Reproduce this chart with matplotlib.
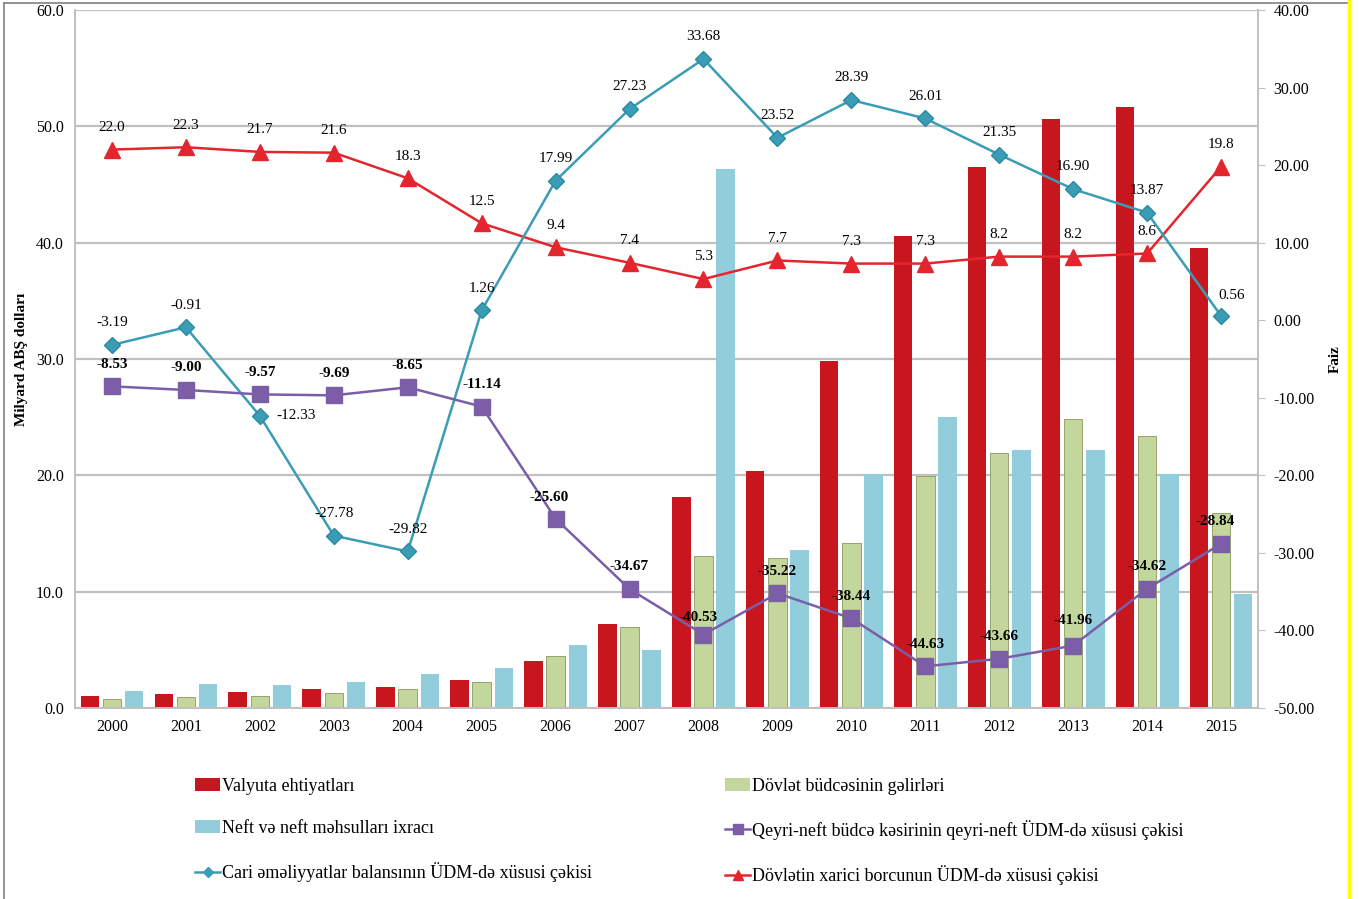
import matplotlib
matplotlib.use("Agg")
import matplotlib.pyplot as plt
import numpy as np
from matplotlib.lines import Line2D
from matplotlib.patches import Patch

years = ["2000", "2001", "2002", "2003", "2004", "2005", "2006", "2007",
         "2008", "2009", "2010", "2011", "2012", "2013", "2014", "2015"]

# bars, billion USD (left axis)
reserves = [1.0, 1.2, 1.4, 1.6, 1.8, 2.4, 4.0, 7.2, 18.1, 20.4, 29.8, 40.6, 46.5, 50.6, 51.7, 39.5]
budget_revenue = [0.8, 0.9, 1.0, 1.3, 1.6, 2.2, 4.5, 7.0, 13.1, 12.9, 14.2, 19.9, 21.9, 24.8, 23.4, 16.8]
oil_exports = [1.5, 2.1, 2.0, 2.2, 2.9, 3.4, 5.4, 5.0, 46.3, 13.6, 20.1, 25.0, 22.2, 22.2, 20.1, 9.8]

# lines, percent (right axis)
current_account = [-3.19, -0.91, -12.33, -27.78, -29.82, 1.26, 17.99, 27.23,
                   33.68, 23.52, 28.39, 26.01, 21.35, 16.90, 13.87, 0.56]
non_oil_deficit = [-8.53, -9.00, -9.57, -9.69, -8.65, -11.14, -25.60, -34.67,
                   -40.53, -35.22, -38.44, -44.63, -43.66, -41.96, -34.62, -28.84]
external_debt = [22.0, 22.3, 21.7, 21.6, 18.3, 12.5, 9.4, 7.4,
                 5.3, 7.7, 7.3, 7.3, 8.2, 8.2, 8.6, 19.8]

RED_BAR = "#c8161f"
GREEN_BAR = "#c3d69b"
BLUE_BAR = "#92cddc"
TEAL = "#3a9db5"
PURPLE = "#7b5ea7"
RED_LINE = "#e3262e"
GRID = "#c0c0c0"

plt.rcParams["font.family"] = ["Liberation Serif", "DejaVu Serif"]

fig = plt.figure(figsize=(13.59, 8.99), dpi=100)
ax = fig.add_axes([0.0552, 0.2125, 0.8705, 0.7764])
ax2 = ax.twinx()

x = np.arange(len(years))
w = 0.25
ax.bar(x - 0.3, reserves, w, color=RED_BAR, zorder=2)
ax.bar(x, budget_revenue, w, color=GREEN_BAR, edgecolor="#8a9a60", linewidth=0.6, zorder=2)
ax.bar(x + 0.3, oil_exports, w, color=BLUE_BAR, zorder=2)

ax.set_xlim(-0.5, len(years) - 0.5)
ax.set_ylim(0, 60)
ax.set_yticks(np.arange(0, 61, 10))
ax.set_yticklabels([f"{v:.1f}" for v in np.arange(0, 61, 10)])
ax.set_xticks(x)
ax.set_xticklabels(years)
ax.yaxis.grid(True, color=GRID, linewidth=1.6, zorder=0)
ax.set_axisbelow(True)
ax.tick_params(axis="both", length=0, labelsize=11.5, pad=8)
ax.set_ylabel("Milyard ABŞ dolları", fontsize=11, fontweight="bold", labelpad=6)

ax2.set_ylim(-50, 40)
ax2.set_yticks(np.arange(-50, 41, 10))
ax2.set_yticklabels([f"{v:.2f}" for v in np.arange(-50, 41, 10)])
ax2.tick_params(axis="y", length=5, color=GRID, labelsize=11.5, pad=6)
ax2.set_ylabel("Faiz", fontsize=11, fontweight="bold", rotation=90, labelpad=10)

for a in (ax, ax2):
    a.spines["top"].set_visible(False)
    for side in ("left", "right", "bottom"):
        a.spines[side].set_color(GRID)
        a.spines[side].set_linewidth(1.2)

ax2.plot(x, external_debt, color=RED_LINE, linewidth=1.8, marker="^", markersize=11,
         markerfacecolor=RED_LINE, markeredgecolor=RED_LINE, zorder=4)
ax2.plot(x, current_account, color=TEAL, linewidth=1.8, marker="D", markersize=8,
         markerfacecolor=TEAL, markeredgecolor="#2c8aa0", zorder=4)
ax2.plot(x, non_oil_deficit, color=PURPLE, linewidth=1.8, marker="s", markersize=11,
         markerfacecolor=PURPLE, markeredgecolor=PURPLE, zorder=4)

# label offsets in points (dx, dy); everything else sits above the marker
ca_offsets = {2: (26, 0), 15: (8, 15)}
nd_offsets = {6: (-5, 15), 8: (-4, 12), 13: (0, 18), 15: (-4, 16)}

for i, v in enumerate(external_debt):
    ax2.annotate(f"{v:.1f}", (x[i], v), xytext=(0, 16), textcoords="offset points",
                 ha="center", va="center", fontsize=11, zorder=5)
for i, v in enumerate(current_account):
    dx, dy = ca_offsets.get(i, (0, 16))
    ax2.annotate(f"{v:.2f}", (x[i], v), xytext=(dx, dy), textcoords="offset points",
                 ha="center", va="center", fontsize=11, zorder=5)
for i, v in enumerate(non_oil_deficit):
    dx, dy = nd_offsets.get(i, (0, 16))
    ax2.annotate(f"{v:.2f}", (x[i], v), xytext=(dx, dy), textcoords="offset points",
                 ha="center", va="center", fontsize=11, fontweight="bold", zorder=5)

col1 = [
    (Patch(facecolor=RED_BAR), "Valyuta ehtiyatları"),
    (Patch(facecolor=BLUE_BAR), "Neft və neft məhsulları ixracı"),
    (Line2D([], [], color=TEAL, marker="D", markersize=5, linewidth=1.8),
     "Cari əməliyyatlar balansının ÜDM-də xüsusi çəkisi"),
]
col2 = [
    (Patch(facecolor=GREEN_BAR), "Dövlət büdcəsinin gəlirləri"),
    (Line2D([], [], color=PURPLE, marker="s", markersize=7, linewidth=1.8),
     "Qeyri-neft büdcə kəsirinin qeyri-neft ÜDM-də xüsusi çəkisi"),
    (Line2D([], [], color=RED_LINE, marker="^", markersize=7, linewidth=1.8),
     "Dövlətin xarici borcunun ÜDM-də xüsusi çəkisi"),
]
for items, left in ((col1, 0.1435), (col2, 0.5335)):
    fig.legend([h for h, _ in items], [t for _, t in items], loc="upper left",
               bbox_to_anchor=(left, 0.135), frameon=False, fontsize=13,
               labelspacing=1.4, handlelength=1.4, handletextpad=0.1,
               borderaxespad=0, borderpad=0)

# page frame and the yellow edge seen on the scan
fig.add_artist(Line2D([0.003, 0.003], [0.0, 0.997], color="#808080", linewidth=1.2))
fig.add_artist(Line2D([0.003, 0.992], [0.997, 0.997], color="#808080", linewidth=1.2))
fig.add_artist(Line2D([0.9925, 0.9925], [0.0, 1.0], color="#ffff00", linewidth=2.5))

fig.savefig("out.png", dpi=100)
